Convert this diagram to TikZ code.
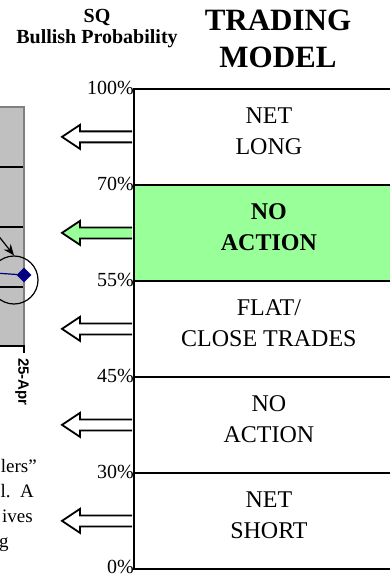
\documentclass[tikz,border=0pt]{standalone}
\usepackage{fontspec}
\setmainfont{Liberation Serif}
\setsansfont{Liberation Sans}
\usepackage{tikz}
\usetikzlibrary{arrows,arrows.meta,shapes,positioning,calc}
\definecolor{tmgreen}{RGB}{153,255,153}
\definecolor{tmgray}{RGB}{192,192,192}
\definecolor{tmframe}{RGB}{128,128,128}
\definecolor{tmnavy}{RGB}{0,0,128}
\tikzstyle{band} = [rectangle, draw, line width=1.8pt, anchor=north west, minimum width=270pt, minimum height=96pt, inner sep=0pt]
\tikzstyle{bandtext} = [align=center, inner sep=0pt, yshift=6pt, font=\fontsize{24}{31}\selectfont]
\tikzstyle{pct} = [anchor=east, inner sep=0pt, font=\fontsize{20}{20}\selectfont]
\tikzstyle{heading} = [align=center, inner sep=0pt]
\tikzstyle{blockarrow} = [draw, line width=1.8pt, line join=miter]
\tikzstyle{gridline} = [line width=1.5pt]
\tikzstyle{note} = [inner sep=0pt, font=\fontsize{19}{24}\selectfont]

\begin{document}
\begin{tikzpicture}[x=1pt, y=-1pt]
\useasboundingbox (0,0) rectangle (390,577);
\clip (0,0) rectangle (390,577);

% headings
\node[heading, font=\bfseries\fontsize{20}{21}\selectfont] (sq) at (97,29) {SQ\\Bullish Probability};
\node[heading, font=\bfseries\fontsize{31}{37.5}\selectfont] (title) at (278,39) {TRADING\\MODEL};

% model bands
\node[band] (long) at (133,88) {};
\node[band, fill=tmgreen] (noact) at (133,184) {};
\node[band] (flat) at (133,280) {};
\node[band] (wait) at (133,376) {};
\node[band] (short) at (133,472) {};

\node[bandtext] (longtxt) at (long.center) {NET\\LONG};
\node[bandtext, font=\bfseries\fontsize{24}{31}\selectfont] (noacttxt) at (noact.center) {NO\\ACTION};
\node[bandtext] (flattxt) at (flat.center) {FLAT/\\CLOSE TRADES};
\node[bandtext] (waittxt) at (wait.center) {NO\\ACTION};
\node[bandtext] (shorttxt) at (short.center) {NET\\SHORT};

% probability levels
\foreach \p/\y in {100/88,70/184,55/280,45/376,30/472,0/567}
  \node[pct] (pct\p) at (134,\y) {\p\%};

% hollow arrows out of each band
\foreach \b/\col in {long/white,noact/tmgreen,flat/white,wait/white,short/white}
  \draw[blockarrow, fill=\col] ($(\b.west)+(-0.9,5.5)$) -- ++(-52.1,0) -- ++(0,6.5)
    -- ++(-18,-12) -- ++(18,-12) -- ++(0,6.5) -- ++(52.1,0);

% edge of the price chart
\fill[tmgray] (-5,107) rectangle (24,346);
\draw[tmframe, line width=2pt] (-5,107) -- (24,107) -- (24,346);
\foreach \y in {167,227,287}
  \draw[gridline] (-5,\y) -- (23,\y);
\draw[gridline] (-5,346) -- (24,346) -- (24,353);
\node[diamond, fill=tmnavy, minimum size=15pt, inner sep=0pt] (mark) at (24,275) {};
\draw[tmnavy, line width=1.2pt] (-5,273) -- (mark);
\node[circle, draw, line width=1.2pt, minimum size=48pt, inner sep=0pt] (ring) at (14,280) {};
\draw[line width=1.2pt, -{Stealth[length=11pt,width=9pt]}] (-3,234) -- (ring.north);
\node[rotate=-90, anchor=west, inner sep=0pt, font=\sffamily\bfseries\fontsize{15}{15}\selectfont] (date) at (22,358) {25-Apr};

% tail of the commentary text
\node[note, anchor=base east] (line1) at (37,472) {lers''};
\node[note, anchor=base east] (line2) at (34,497) {l.\ \ A};
\node[note, anchor=base east] (line3) at (33,522) {ives};
\node[note, anchor=base west] (line4) at (-1,547) {g};
\end{tikzpicture}
\end{document}
